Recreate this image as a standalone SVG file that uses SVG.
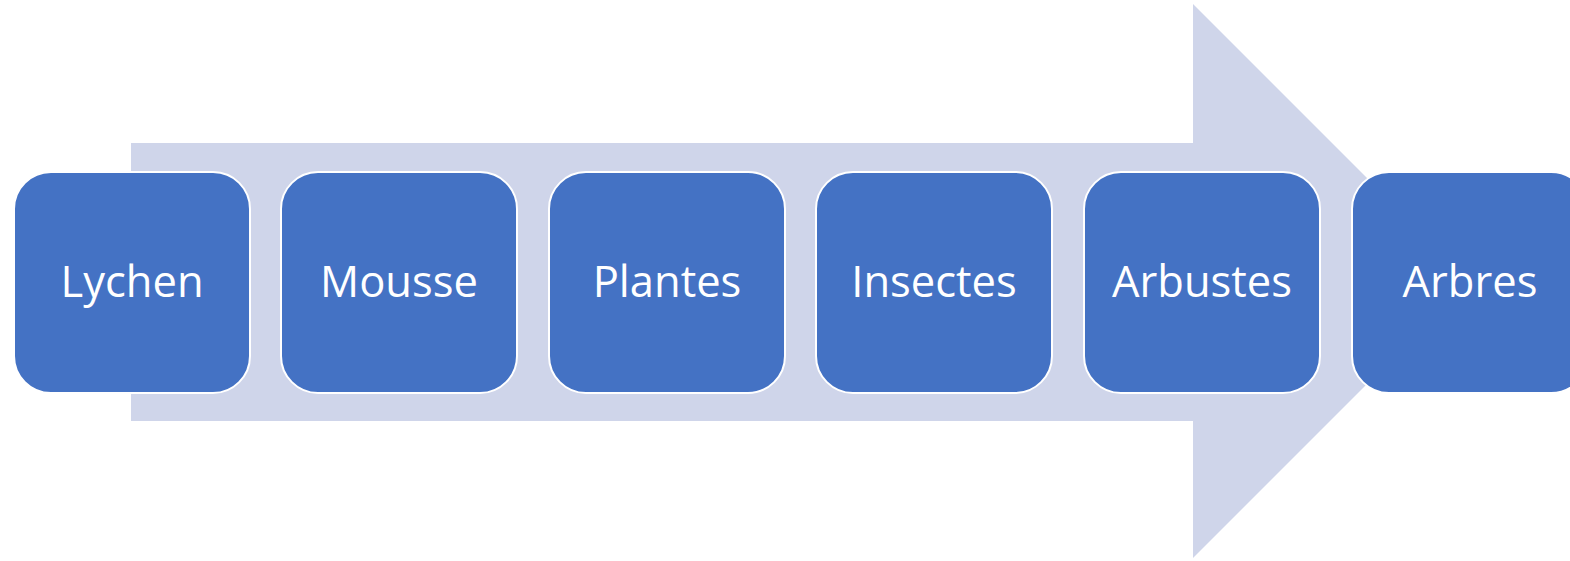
<svg xmlns="http://www.w3.org/2000/svg" width="1570" height="561" viewBox="0 0 1570 561">
<style>
.box{fill:#4472C4;stroke:#FFFFFF;stroke-width:2}
.lbl{fill:#FFFFFF;font-family:"Open Sans","Noto Sans","Liberation Sans",sans-serif;font-size:43.5px;text-anchor:middle}
</style>
<rect width="1570" height="561" fill="#FFFFFF"/>
<g id="connectors">
<polygon points="131,143 1193,143 1193,4 1470,281 1193,558 1193,421 131,421" fill="#CFD5EA"/>
</g>
<g id="n1"><rect class="box" x="14" y="172" width="236" height="221" rx="37"/><text class="lbl" x="132" y="297">Lychen</text></g>
<g id="n2"><rect class="box" x="281" y="172" width="236" height="221" rx="37"/><text class="lbl" x="399" y="297">Mousse</text></g>
<g id="n3"><rect class="box" x="549" y="172" width="236" height="221" rx="37"/><text class="lbl" x="667" y="297">Plantes</text></g>
<g id="n4"><rect class="box" x="816" y="172" width="236" height="221" rx="37"/><text class="lbl" x="934" y="297">Insectes</text></g>
<g id="n5"><rect class="box" x="1084" y="172" width="236" height="221" rx="37"/><text class="lbl" x="1202" y="297">Arbustes</text></g>
<g id="n6"><rect class="box" x="1352" y="172" width="236" height="221" rx="37"/><text class="lbl" x="1470" y="297">Arbres</text></g>
</svg>
